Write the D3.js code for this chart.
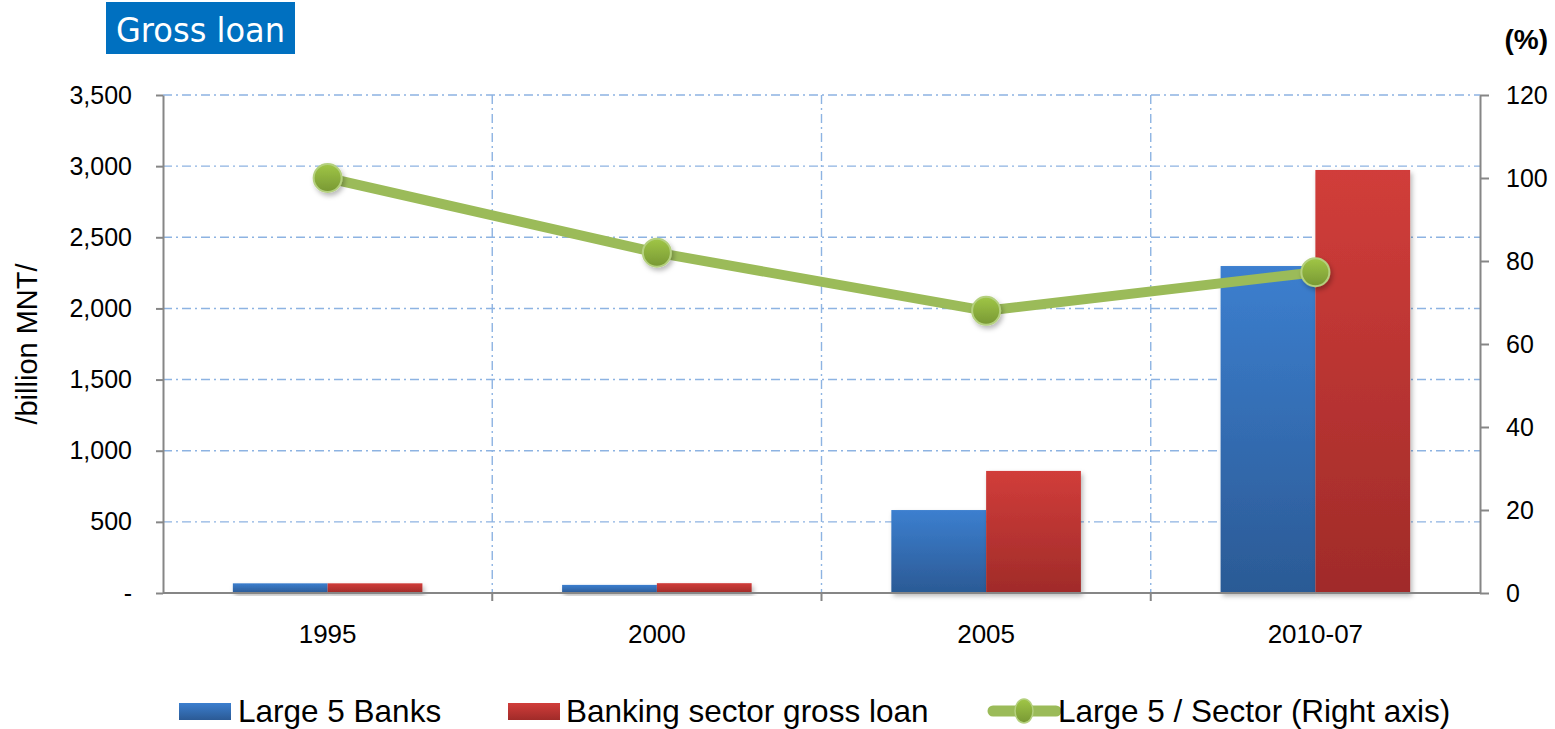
<!DOCTYPE html>
<html>
<head>
<meta charset="utf-8">
<script src="https://cdn.jsdelivr.net/npm/d3@7"></script>
<style>
  body { margin: 0; background: #fff; }
  text { font-family: "Liberation Sans", Arial, sans-serif; }
</style>
</head>
<body>
<div id="chart"></div>
<script>
// chart data
const categories = ["1995", "2000", "2005", "2010-07"];
const large5 = [68, 57, 583, 2298];
const sector = [68, 69, 858, 2973];
const ratio = [100, 82, 68, 77.3];
const leftTicks = [0, 500, 1000, 1500, 2000, 2500, 3000, 3500];
const rightTicks = [0, 20, 40, 60, 80, 100, 120];
const seriesNames = ["Large 5 Banks", "Banking sector gross loan", "Large 5 / Sector (Right axis)"];

const W = 1555, H = 729;
const margin = {top: 95, right: 75, bottom: 136, left: 163},
    width = W - margin.left - margin.right,
    height = H - margin.top - margin.bottom;

const svg = d3.select("#chart").append("svg")
    .attr("width", W).attr("height", H);

// gradients + shadow
const defs = svg.append("defs");
function vGrad(id, top, bottom) {
    const g = defs.append("linearGradient").attr("id", id)
        .attr("x1", 0).attr("y1", 0).attr("x2", 0).attr("y2", 1);
    g.append("stop").attr("offset", "0%").attr("stop-color", top);
    g.append("stop").attr("offset", "100%").attr("stop-color", bottom);
}
vGrad("gBlue", "#3C7FCF", "#2B5A95");
vGrad("gRed", "#D13D3A", "#A02B29");
vGrad("gGreen", "#A0C646", "#789834");
const sh = defs.append("filter").attr("id", "shadow")
    .attr("x", "-20%").attr("y", "-20%").attr("width", "150%").attr("height", "150%");
sh.append("feDropShadow").attr("dx", 2).attr("dy", 3).attr("stdDeviation", 2.5)
    .attr("flood-color", "#000").attr("flood-opacity", 0.28);

const g = svg.append("g").attr("transform", "translate(" + margin.left + "," + margin.top + ")");

// scales
const x0 = d3.scaleBand().domain(categories).range([0, width]).padding(0);
const x1 = d3.scaleBand().domain([0, 1]).range([0, x0.bandwidth()]).paddingInner(0).paddingOuter(0.737);
const y = d3.scaleLinear().domain([0, 3500]).range([height, 0]);
const y2 = d3.scaleLinear().domain([0, 120]).range([height, 0]);

// grid
const gridColor = "#8DB3E2";
g.append("g").selectAll("line").data(leftTicks.filter(d => d > 0)).enter().append("line")
    .attr("x1", 0).attr("x2", width)
    .attr("y1", d => y(d)).attr("y2", d => y(d))
    .attr("stroke", gridColor).attr("stroke-width", 1.4).attr("stroke-dasharray", "9,4,2,4");
g.append("g").selectAll("line").data(categories.slice(1)).enter().append("line")
    .attr("x1", d => x0(d)).attr("x2", d => x0(d))
    .attr("y1", 0).attr("y2", height)
    .attr("stroke", gridColor).attr("stroke-width", 1.4).attr("stroke-dasharray", "9,4,2,4");

// bars
const bars = g.append("g");
const seriesData = [large5, sector];
const fills = ["url(#gBlue)", "url(#gRed)"];
categories.forEach((c, i) => {
    seriesData.forEach((s, j) => {
        bars.append("rect")
            .attr("x", x0(c) + x1(j))
            .attr("y", y(s[i]))
            .attr("width", x1.bandwidth())
            .attr("height", height - y(s[i]))
            .attr("fill", fills[j])
            .attr("filter", "url(#shadow)");
    });
});

// axes
const axisColor = "#868686";
const leftAxis = g.append("g")
    .call(d3.axisLeft(y).tickValues(leftTicks).tickSize(7).tickSizeOuter(0).tickPadding(24)
        .tickFormat(d => d === 0 ? "-" : d3.format(",")(d)));
const rightAxis = g.append("g").attr("transform", "translate(" + width + ",0)")
    .call(d3.axisRight(y2).tickValues(rightTicks).tickSize(9).tickSizeOuter(0).tickPadding(17));
[leftAxis, rightAxis].forEach(a => {
    a.select(".domain").attr("stroke", axisColor).attr("stroke-width", 2);
    a.selectAll(".tick line").attr("stroke", axisColor).attr("stroke-width", 2);
    a.selectAll(".tick text").attr("fill", "#000").style("font-size", "25px")
        .style("font-family", "'Liberation Sans', Arial, sans-serif");
});

// bottom axis
g.append("line").attr("x1", 0).attr("x2", width).attr("y1", height).attr("y2", height)
    .attr("stroke", axisColor).attr("stroke-width", 2);
g.append("g").selectAll("line").data(categories.slice(1)).enter().append("line")
    .attr("x1", d => x0(d)).attr("x2", d => x0(d))
    .attr("y1", height).attr("y2", height + 8)
    .attr("stroke", axisColor).attr("stroke-width", 2);
g.append("g").selectAll("text").data(categories).enter().append("text")
    .attr("x", d => x0(d) + x0.bandwidth() / 2)
    .attr("y", height + 50)
    .attr("text-anchor", "middle")
    .style("font-size", "26px")
    .text(d => d);

// ratio line
const pts = categories.map((c, i) => [x0(c) + x0.bandwidth() / 2, y2(ratio[i])]);
g.append("path")
    .attr("d", d3.line()(pts))
    .attr("fill", "none")
    .attr("stroke", "#9BBB59")
    .attr("stroke-width", 10)
    .attr("stroke-linejoin", "round");
g.append("g").selectAll("circle").data(pts).enter().append("circle")
    .attr("cx", d => d[0]).attr("cy", d => d[1]).attr("r", 14)
    .attr("fill", "url(#gGreen)")
    .attr("stroke", "#B4D07E").attr("stroke-width", 2)
    .attr("filter", "url(#shadow)");

// y label
svg.append("text")
    .attr("transform", "translate(37," + (margin.top + height / 2) + ") rotate(-90)")
    .attr("text-anchor", "middle")
    .style("font-size", "29px")
    .text("/billion MNT/");

// (%) label
svg.append("text")
    .attr("x", 1548).attr("y", 49)
    .attr("text-anchor", "end")
    .style("font-size", "28px").style("font-weight", "bold")
    .text("(%)");

// title box
svg.append("rect").attr("x", 106).attr("y", 2).attr("width", 189).attr("height", 52).attr("fill", "#0070C0");
svg.append("text")
    .attr("x", 116).attr("y", 42)
    .attr("fill", "#fff")
    .style("font-family", "'DejaVu Sans', Verdana, sans-serif")
    .style("font-size", "33px")
    .attr("textLength", 169).attr("lengthAdjust", "spacingAndGlyphs")
    .text("Gross loan");

// legend
const legend = svg.append("g");
const legX = [179, 508, 993];
const legY = 711;
legend.append("rect").attr("x", legX[0]).attr("y", legY - 8).attr("width", 52).attr("height", 17).attr("fill", "url(#gBlue)");
legend.append("rect").attr("x", legX[1]).attr("y", legY - 8).attr("width", 52).attr("height", 17).attr("fill", "url(#gRed)");
legend.append("line").attr("x1", legX[2]).attr("x2", legX[2] + 63).attr("y1", legY).attr("y2", legY)
    .attr("stroke", "#9BBB59").attr("stroke-width", 11).attr("stroke-linecap", "round");
legend.append("ellipse").attr("cx", legX[2] + 31).attr("cy", legY).attr("rx", 9).attr("ry", 12)
    .attr("fill", "url(#gGreen)").attr("stroke", "#B4D07E").attr("stroke-width", 1.5);
const legTextX = [238, 566, 1058];
seriesNames.forEach((n, i) => {
    legend.append("text")
        .attr("x", legTextX[i]).attr("y", legY + 11)
        .style("font-size", "31.5px")
        .text(n);
});
</script>
</body>
</html>
